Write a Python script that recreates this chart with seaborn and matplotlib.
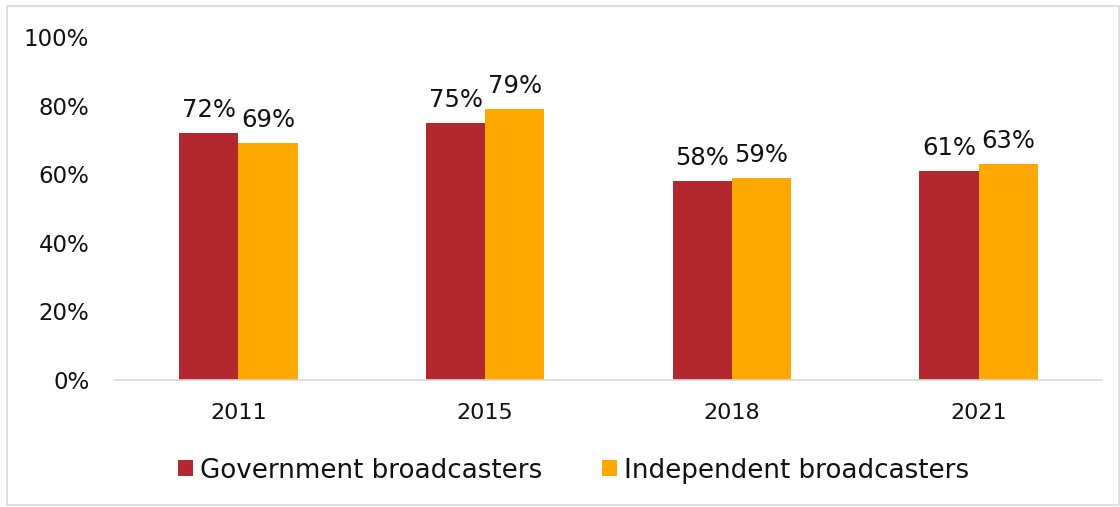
import matplotlib
matplotlib.use("Agg")
import matplotlib.pyplot as plt
from matplotlib.patches import Rectangle
import seaborn as sns
import pandas as pd

years = ["2011", "2015", "2018", "2021"]
government = [72, 75, 58, 61]
independent = [69, 79, 59, 63]
series_names = ["Government broadcasters", "Independent broadcasters"]
colors = ["#B2282E", "#FFA800"]

df = pd.DataFrame({
    "year": years * 2,
    "value": government + independent,
    "series": [series_names[0]] * len(years) + [series_names[1]] * len(years),
})

sns.set_theme(style="white")
plt.rcParams["font.family"] = ["DejaVu Sans"]

fig = plt.figure(figsize=(11.2, 5.07), dpi=100)
ax = fig.add_axes([115 / 1120, 1 - 380 / 507, (1102 - 115) / 1120, (380 - 37) / 507])

sns.barplot(data=df, x="year", y="value", hue="series", palette=colors,
            width=0.48, gap=0, saturation=1, ax=ax, legend=False,
            edgecolor="none", linewidth=0)

ax.set_ylim(0, 100)
ax.set_xlim(-0.5, 3.5)
ax.set_yticks([0, 20, 40, 60, 80, 100])
ax.set_yticklabels([f"{v}%" for v in [0, 20, 40, 60, 80, 100]])
ax.set_xlabel("")
ax.set_ylabel("")
ax.tick_params(axis="y", length=0, pad=18.5, labelsize=16.5, labelcolor="#111111")
ax.tick_params(axis="x", length=0, pad=16.5, labelsize=16, labelcolor="#111111")
for side in ["top", "right", "left"]:
    ax.spines[side].set_visible(False)
ax.spines["bottom"].set_color("#D9D9D9")
ax.spines["bottom"].set_linewidth(1.2)

for container in ax.containers:
    ax.bar_label(container, labels=[f"{v:.0f}%" for v in container.datavalues],
                 padding=8, fontsize=17.5, color="#111111")

handles = [Rectangle((0, 0), 1, 1, facecolor=c, edgecolor="none") for c in colors]
leg = fig.legend(handles, series_names, loc="center",
                 bbox_to_anchor=(573.5 / 1120, 1 - 470.5 / 507),
                 ncol=2, frameon=False, fontsize=18.8, handlelength=0.58, handleheight=0.58,
                 handletextpad=0.25, columnspacing=2.3, borderpad=0, borderaxespad=0)
for t in leg.get_texts():
    t.set_color("#111111")

fig.patches.append(Rectangle((7 / 1120, 2 / 507), 1 - 7 / 1120 - 1 / 1120, 1 - 8 / 507,
                             transform=fig.transFigure, fill=False,
                             edgecolor="#D9D9D9", linewidth=1.2))

fig.savefig("out.png", dpi=100)
